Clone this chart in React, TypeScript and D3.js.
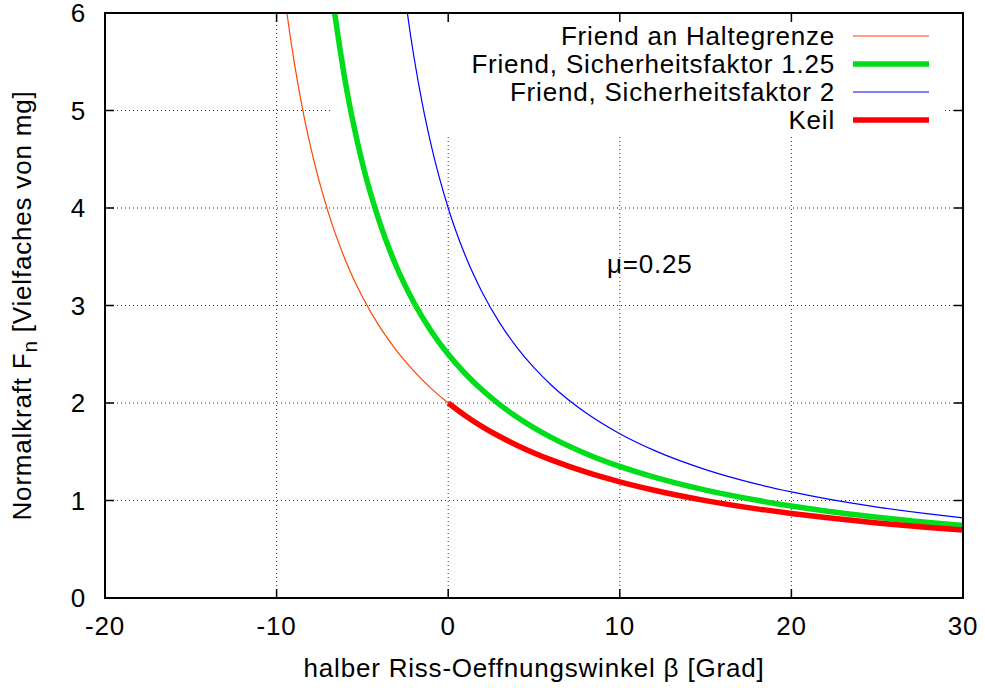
import React from "react";
import * as d3 from "d3";

// ---- data ----
const xTicks = [-20, -10, 0, 10, 20, 30];
const yTicks = [0, 1, 2, 3, 4, 5, 6];

// Friend an Haltegrenze (mu = 0.25)
const haltX = [-9.6, -9.4, -9, -8.5, -8, -7, -6, -5, -4, -3, -2, -1, 0, 1, 2, 3, 4, 5, 6, 8, 10, 12, 15, 18, 20, 22, 25, 28, 30];
const haltY = [6.27, 6.0, 5.525, 5.028, 4.613, 3.96, 3.47, 3.089, 2.783, 2.534, 2.326, 2.15, 2.0, 1.87, 1.756, 1.656, 1.567, 1.487, 1.416, 1.293, 1.191, 1.105, 0.999, 0.914, 0.867, 0.825, 0.77, 0.724, 0.698];

// Friend, Sicherheitsfaktor 1.25
const f125X = [-6.7, -6, -5.5, -5, -4, -3, -2, -1, 0, 1, 2, 3, 4, 5, 6, 8, 10, 12, 15, 18, 20, 22, 25, 28, 30];
const f125Y = [6.1, 5.298, 4.844, 4.461, 3.854, 3.392, 3.031, 2.739, 2.5, 2.3, 2.13, 1.984, 1.857, 1.746, 1.648, 1.483, 1.349, 1.239, 1.106, 1.002, 0.943, 0.893, 0.828, 0.774, 0.743];

// Friend, Sicherheitsfaktor 2
const f2X = [-2.45, -2.2, -2, -1.5, -1, 0, 1, 2, 3, 4, 5, 6, 8, 10, 12, 15, 18, 20, 22, 25, 28, 30];
const f2Y = [6.087, 5.779, 5.554, 5.062, 4.65, 4.0, 3.51, 3.129, 2.822, 2.571, 2.362, 2.185, 1.902, 1.685, 1.514, 1.317, 1.168, 1.088, 1.019, 0.933, 0.862, 0.822];

// Keil
const keilX = [0, 1, 2, 3, 4, 5, 6, 8, 10, 12, 15, 18, 20, 22, 25, 28, 30];
const keilY = [2.0, 1.87, 1.756, 1.656, 1.567, 1.487, 1.416, 1.293, 1.191, 1.105, 0.999, 0.914, 0.867, 0.825, 0.77, 0.724, 0.698];

const seriesNames = ["Friend an Haltegrenze", "Friend, Sicherheitsfaktor 1.25", "Friend, Sicherheitsfaktor 2", "Keil"];

const W = 985, H = 688;
const L = 105, R = 963, T = 13, B = 598;
const FONT = "'Liberation Sans', Arial, Helvetica, sans-serif";
const FS = 26;
const LS = 0.8;

export default function App() {
  const x = d3.scaleLinear().domain([-20, 30]).range([L, R]);
  const y = d3.scaleLinear().domain([0, 6]).range([B, T]);
  const line = d3
    .line<[number, number]>()
    .x((d) => x(d[0]))
    .y((d) => y(d[1]))
    .curve(d3.curveMonotoneX);
  const zip = (a: number[], b: number[]) => a.map((v, i) => [v, b[i]] as [number, number]);

  const series = [
    { name: seriesNames[0], data: zip(haltX, haltY), color: "#ff4500", w: 1.2 },
    { name: seriesNames[1], data: zip(f125X, f125Y), color: "#00dd1a", w: 5.5 },
    { name: seriesNames[2], data: zip(f2X, f2Y), color: "#0000ff", w: 1.2 },
    { name: seriesNames[3], data: zip(keilX, keilY), color: "#ff0000", w: 5.5 },
  ];

  const key = { x0: 330, x1: 945, y0: T, y1: 135 };
  const legendRowY = [36, 64, 92, 120];
  const tick = 9;

  return (
    <svg
      width={W}
      height={H}
      style={{ position: "absolute", left: 0, top: 0, background: "#fff" }}
      fontFamily={FONT}
    >
      <defs>
        <clipPath id="plot">
          <rect x={L} y={T} width={R - L} height={B - T} />
        </clipPath>
      </defs>
      <rect x={0} y={0} width={W} height={H} fill="#fff" />
      {/* grid */}
      <g stroke="#333" strokeWidth={1} strokeDasharray="1,3">
        {xTicks.slice(1, -1).map((t) => (
          <line key={"gx" + t} x1={x(t)} x2={x(t)} y1={B} y2={T} />
        ))}
        {yTicks.slice(1, -1).map((t) => (
          <line key={"gy" + t} x1={L} x2={R} y1={y(t)} y2={y(t)} />
        ))}
      </g>
      {/* key area masks grid */}
      <rect x={key.x0} y={key.y0} width={key.x1 - key.x0} height={key.y1 - key.y0} fill="#fff" />
      {/* ticks */}
      <g stroke="#000" strokeWidth={1.5}>
        {xTicks.map((t) => (
          <g key={"tx" + t}>
            <line x1={x(t)} x2={x(t)} y1={B} y2={B - tick} />
            <line x1={x(t)} x2={x(t)} y1={T} y2={T + tick} />
          </g>
        ))}
        {yTicks.map((t) => (
          <g key={"ty" + t}>
            <line x1={L} x2={L + tick} y1={y(t)} y2={y(t)} />
            <line x1={R} x2={R - tick} y1={y(t)} y2={y(t)} />
          </g>
        ))}
      </g>
      {/* curves */}
      <g clipPath="url(#plot)" fill="none">
        {series.map((s) => (
          <path key={s.name} d={line(s.data) || ""} stroke={s.color} strokeWidth={s.w} strokeLinejoin="round" />
        ))}
      </g>
      {/* border */}
      <rect x={L} y={T} width={R - L} height={B - T} fill="none" stroke="#000" strokeWidth={2} />
      {/* tick labels */}
      <g fontSize={FS} letterSpacing={LS} fill="#000">
        {xTicks.map((t) => (
          <text key={"lx" + t} x={x(t)} y={635} textAnchor="middle">
            {t}
          </text>
        ))}
        {yTicks.map((t) => (
          <text key={"ly" + t} x={86} y={y(t) + 9} textAnchor="end">
            {t}
          </text>
        ))}
      </g>
      {/* axis titles */}
      <text x={(L + R) / 2} y={677} textAnchor="middle" fontSize={FS} letterSpacing={LS}>
        halber Riss-Oeffnungswinkel β [Grad]
      </text>
      <text
        transform={`translate(31, ${(T + B) / 2}) rotate(-90)`}
        textAnchor="middle"
        fontSize={FS}
        letterSpacing={LS}
      >
        Normalkraft F
        <tspan fontSize={FS * 0.8} dy={6}>n</tspan>
        <tspan dy={-6}> [Vielfaches von mg]</tspan>
      </text>
      {/* label */}
      <text x={607} y={273} fontSize={FS} letterSpacing={LS}>
        μ=0.25
      </text>
      {/* legend */}
      {series.map((s, i) => (
        <g key={"lg" + i}>
          <text x={835} y={legendRowY[i] + 9} textAnchor="end" fontSize={FS} letterSpacing={LS}>
            {s.name}
          </text>
          <line x1={853} x2={929} y1={legendRowY[i]} y2={legendRowY[i]} stroke={s.color} strokeWidth={s.w} />
        </g>
      ))}
    </svg>
  );
}
